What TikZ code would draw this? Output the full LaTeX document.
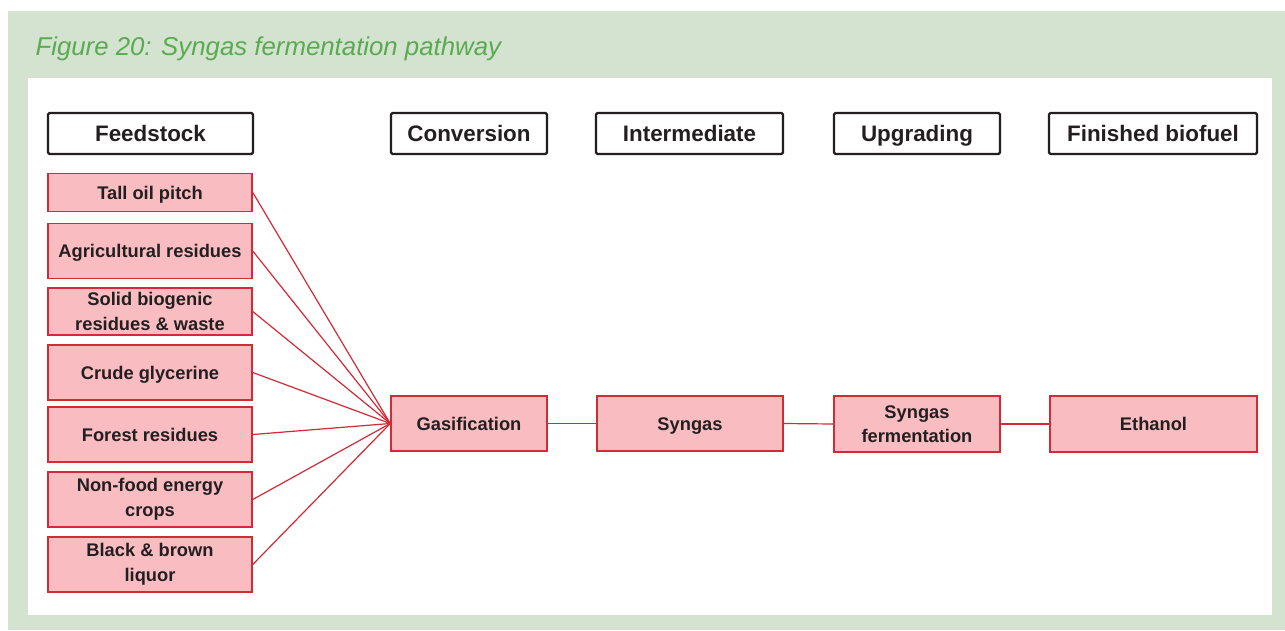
\documentclass[tikz,border=0pt]{standalone}
\usepackage{fontspec}
\setmainfont{Liberation Sans}
\definecolor{bggreen}{HTML}{D4E3CF}
\definecolor{titlegreen}{HTML}{5AAA52}
\definecolor{pinkfill}{HTML}{F8BCC1}
\definecolor{redline}{HTML}{D02B36}
\definecolor{darktext}{HTML}{231F20}
\tikzset{
  hdr/.style={draw=darktext, line width=2.4pt, rounded corners=1.5pt, fill=white,
    text=darktext, font=\fontsize{22.4}{26}\selectfont\bfseries, inner sep=0pt, anchor=center,
    text height=16pt, text depth=0pt},
  pbox/.style={draw=redline, line width=1.5pt, fill=pinkfill, text=darktext,
    font=\fontsize{18.3}{24.5}\selectfont\bfseries, align=center, inner sep=0pt, anchor=center},
  sl/.style={text height=13.2pt, text depth=0pt},
  link/.style={draw=redline, line width=1.2pt}
}
\begin{document}
\begin{tikzpicture}[x=1pt,y=-1pt]
\useasboundingbox (0,0) rectangle (1285,630);
\fill[white] (0,0) rectangle (1285,630);
\fill[bggreen] (8,11) rectangle (1285,630);
\fill[white] (28,78) rectangle (1272,615);
\node[anchor=base west, text=titlegreen, font=\fontsize{25.8}{30}\selectfont\itshape] (title) at (32,55) {Figure 20: Syngas fermentation pathway};

% headers
\node[hdr, minimum width=205pt, minimum height=41pt] (hfeed) at (150.5,133.5) {Feedstock};
\node[hdr, minimum width=156pt, minimum height=41pt] (hconv) at (469,133.5) {Conversion};
\node[hdr, minimum width=187pt, minimum height=41pt] (hint) at (689.5,133.5) {Intermediate};
\node[hdr, minimum width=166pt, minimum height=41pt] (hupg) at (917,133.5) {Upgrading};
\node[hdr, minimum width=208pt, minimum height=41pt] (hfin) at (1153,133.5) {Finished biofuel};

% feedstocks
\node[pbox, sl, minimum width=204pt, minimum height=38pt] (tall) at (150,192.5) {Tall oil pitch};
\node[pbox, sl, minimum width=204pt, minimum height=55pt] (agri) at (150,251) {Agricultural residues};
\node[pbox, minimum width=204pt, minimum height=47pt] (solid) at (150,311.5) {Solid biogenic\\residues \& waste};
\node[pbox, sl, minimum width=204pt, minimum height=55pt] (crude) at (150,372.5) {Crude glycerine};
\node[pbox, sl, minimum width=204pt, minimum height=55pt] (forest) at (150,434.5) {Forest residues};
\node[pbox, minimum width=204pt, minimum height=55pt] (nonfood) at (150,499.5) {Non-food energy\\crops};
\node[pbox, minimum width=204pt, minimum height=55pt] (black) at (150,564.5) {Black \& brown\\liquor};

% chain
\node[pbox, sl, minimum width=156pt, minimum height=55pt] (gas) at (469,423.5) {Gasification};
\node[pbox, sl, minimum width=186pt, minimum height=55pt] (syngas) at (690,423.5) {Syngas};
\node[pbox, minimum width=166pt, minimum height=56pt] (sferm) at (917,424) {Syngas\\fermentation};
\node[pbox, sl, minimum width=207pt, minimum height=56pt] (eth) at (1153.5,424) {Ethanol};

% connectors
\foreach \s in {tall,agri,solid,crude,forest,nonfood,black}
  \draw[link] (\s.east) -- (gas.west);
\draw[link] (gas.east) -- (syngas.west);
\draw[link] (syngas.east) -- (sferm.west);
\draw[link] (sferm.east) -- (eth.west);
\end{tikzpicture}
\end{document}
